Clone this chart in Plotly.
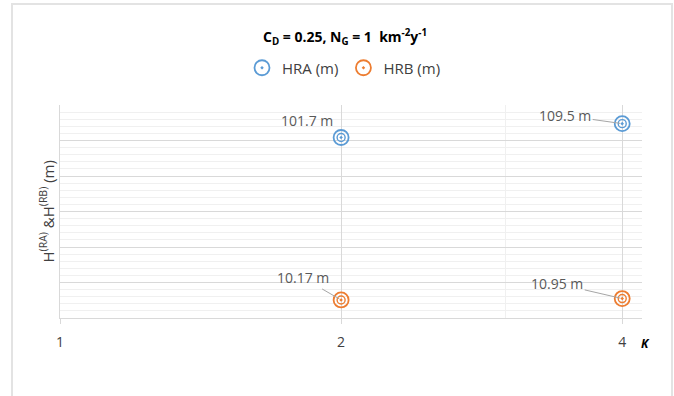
import numpy as np
import plotly.graph_objects as go

# Return heights for the two reference cases at each K
k_values = [2, 4]
hra_m = [101.7, 109.5]
hrb_m = [10.17, 10.95]

# x-axis ticks (log scale) and the extra minor gridline
x_ticks = [1, 2, 4]
x_tick_labels = ["1", "2", "4"]
x_minor_ticks = [3]

BLUE = "#5B9BD5"
ORANGE = "#ED7D31"
GRID = "#d9d9d9"
MINOR = "#f0f0f0"
TEXT = "#404040"
LABEL = "#595959"
FONT = "Open Sans"

W, H = 674, 396
L, R, T, B = 60, 32, 105, 78
PW, PH = W - L - R, H - T - B


def px_x(px):
    return (px - L) / PW


def px_y(py):
    return (H - B - py) / PH


fig = go.Figure()

series = [("HRA (m)", hra_m, BLUE), ("HRB (m)", hrb_m, ORANGE)]
for name, ys, col in series:
    fig.add_trace(go.Scatter(
        x=k_values, y=ys, mode="markers", name=name, legendgroup=name,
        marker=dict(symbol="circle-open-dot", size=15, color=col,
                    line=dict(width=1.8, color=col)),
    ))
    fig.add_trace(go.Scatter(
        x=k_values, y=ys, mode="markers", legendgroup=name, showlegend=False,
        hoverinfo="skip",
        marker=dict(symbol="circle-open", size=8, color=col,
                    line=dict(width=1.4, color=col)),
    ))

# data labels: pixel offsets of each label from its point, and whether a leader line is drawn
label_style = {
    ("HRA (m)", 0): (-34, -17, False),
    ("HRA (m)", 1): (-57, -8, True),
    ("HRB (m)", 0): (-38, -22, True),
    ("HRB (m)", 1): (-65, -15, True),
}
for name, ys, col in series:
    for i, (k, v) in enumerate(zip(k_values, ys)):
        ax, ay, leader = label_style[(name, i)]
        fig.add_annotation(
            x=np.log10(k), y=v, xref="x", yref="y",
            text=f"{v} m", showarrow=True, ax=ax, ay=ay,
            arrowhead=0, arrowwidth=1,
            arrowcolor="#a6a6a6" if leader else "rgba(0,0,0,0)",
            standoff=2,
            font=dict(family=FONT, size=14, color=LABEL),
        )

# chart title
fig.add_annotation(
    x=px_x(345), y=px_y(37), xref="paper", yref="paper",
    xanchor="center", yanchor="middle", showarrow=False,
    text="<b>C<sub>D</sub> = 0.25, N<sub>G</sub> = 1  km<sup>-2</sup>y<sup>-1</sup></b>",
    font=dict(family=FONT, size=14, color="#000000"),
)

# y-axis title
fig.add_annotation(
    x=px_x(47), y=0.5, xref="paper", yref="paper",
    xanchor="center", yanchor="middle", showarrow=False, textangle=-90,
    text="H<sup>(RA)</sup> &amp;H<sup>(RB)</sup> (m)",
    font=dict(family=FONT, size=15, color=TEXT),
)

# x-axis name
fig.add_annotation(
    x=px_x(645), y=px_y(343), xref="paper", yref="paper",
    xanchor="center", yanchor="middle", showarrow=False,
    text="<b><i>K</i></b>",
    font=dict(family=FONT, size=12, color="#000000"),
)

# outer chart frame
fig.add_shape(
    type="rect", xref="paper", yref="paper",
    x0=px_x(12), x1=px_x(672), y0=px_y(4), y1=px_y(420),
    line=dict(color="#e3e3e3", width=2), fillcolor="rgba(0,0,0,0)", layer="below",
)

fig.update_xaxes(
    type="log", range=[0, np.log10(4.2)],
    tickvals=x_ticks, ticktext=x_tick_labels,
    showgrid=True, gridcolor=GRID, gridwidth=1,
    minor=dict(tickvals=x_minor_ticks, showgrid=True, gridcolor=MINOR, ticks=""),
    showline=True, linecolor=GRID, linewidth=1,
    ticks="outside", ticklen=5, tickcolor=GRID,
    tickfont=dict(family=FONT, size=14, color=TEXT),
    ticklabelstandoff=6,
)
fig.update_yaxes(
    range=[0, 120], dtick=20, showticklabels=False,
    showgrid=True, gridcolor=GRID, gridwidth=1,
    minor=dict(dtick=4, showgrid=True, gridcolor=MINOR, ticks=""),
    showline=True, linecolor=GRID, linewidth=1, zeroline=False, ticks="",
)

fig.update_layout(
    width=W, height=H,
    margin=dict(l=L, r=R, t=T, b=B, autoexpand=False),
    paper_bgcolor="white", plot_bgcolor="white",
    showlegend=True,
    legend=dict(
        orientation="h", x=px_x(344), y=px_y(68), xanchor="center", yanchor="middle",
        font=dict(family=FONT, size=15, color=TEXT),
        itemwidth=30, tracegroupgap=0, bgcolor="rgba(0,0,0,0)",
    ),
    font=dict(family=FONT),
)

fig.write_html("out.html")
